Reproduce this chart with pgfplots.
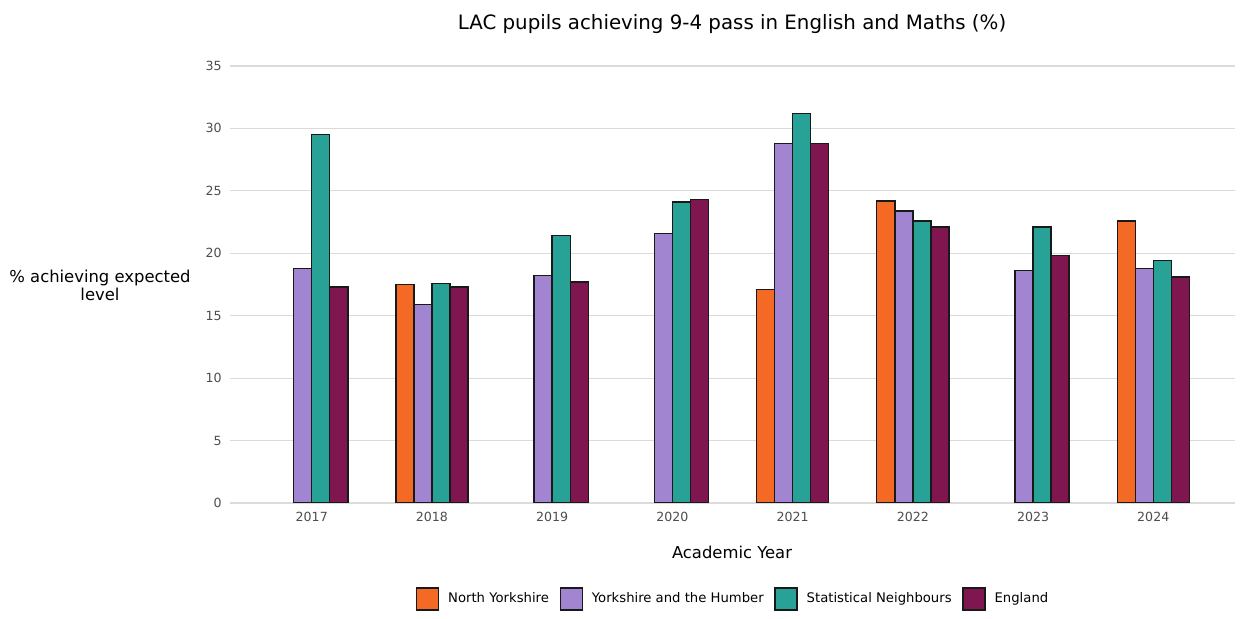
\documentclass[border=0pt]{standalone}
\usepackage{pgfplots}
\pgfplotsset{compat=1.18}
\usepackage{fontspec}
\setmainfont{DejaVu Sans}
\definecolor{cNY}{HTML}{F46A25}
\definecolor{cYH}{HTML}{A285D1}
\definecolor{cSN}{HTML}{28A197}
\definecolor{cEN}{HTML}{801650}
\definecolor{tickgrey}{HTML}{4D4D4D}
\begin{document}
\begin{tikzpicture}
\path[use as bounding box] (-115pt,-58pt) rectangle (505pt,251.5pt);
\begin{axis}[
  at={(0,0)}, anchor=south west,
  scale only axis, width=502.5pt, height=224.75pt,
  ymin=0, ymax=36, xmin=-0.68, xmax=7.68,
  ybar=0pt, bar width=0.15,
  legend image code/.code={\draw[#1,line width=0.7pt] (0pt,-5.5pt) rectangle (11pt,5.5pt);},
  axis line style={draw=none},
  major tick length=0pt,
  ymajorgrids, grid style={draw=black!14, line width=0.6pt},
  xtick={0,1,2,3,4,5,6,7},
  xticklabels={2017,2018,2019,2020,2021,2022,2023,2024},
  ytick={0,5,10,15,20,25,30,35},
  yticklabels={0,5,10,15,20,25,30,35},
  tick label style={font=\fontsize{6.3}{7.5}\selectfont, text=tickgrey},
  xticklabel style={anchor=north, inner sep=0pt, yshift=-4.6pt},
  yticklabel style={anchor=east, inner sep=0pt, xshift=-4pt},
  legend style={at={(0.5015,-0.2136)}, anchor=center, draw=none, fill=none,
    legend columns=4, font=\fontsize{6.6}{8}\selectfont,
    /tikz/every odd column/.append style={column sep=2.5pt},
    /tikz/every even column/.append style={column sep=3.3pt}},
  legend cell align=left,
]
\addplot[fill=cNY, draw=black!90, line width=0.7pt, bar shift=-0.225] coordinates {(1,17.5) (4,17.1) (5,24.2) (7,22.6)};
\addplot[fill=cYH, draw=black!90, line width=0.7pt, bar shift=-0.075] coordinates {(0,18.8) (1,15.9) (2,18.2) (3,21.6) (4,28.8) (5,23.4) (6,18.6) (7,18.8)};
\addplot[fill=cSN, draw=black!90, line width=0.7pt, bar shift=0.075] coordinates {(0,29.5) (1,17.6) (2,21.4) (3,24.1) (4,31.2) (5,22.6) (6,22.1) (7,19.4)};
\addplot[fill=cEN, draw=black!90, line width=0.7pt, bar shift=0.225] coordinates {(0,17.3) (1,17.3) (2,17.7) (3,24.3) (4,28.8) (5,22.1) (6,19.8) (7,18.1)};
\legend{North Yorkshire, Yorkshire and the Humber, Statistical Neighbours, England}
\end{axis}
\node[font=\fontsize{9.9}{11}\selectfont] at (251pt,239.5pt) {LAC pupils achieving 9-4 pass in English and Maths (\%)};
\node[font=\fontsize{8.2}{9}\selectfont, align=center] at (-65pt,109pt) {\% achieving expected\\level};
\node[font=\fontsize{8.2}{9}\selectfont] at (251pt,-24.5pt) {Academic Year};
\end{tikzpicture}
\end{document}
